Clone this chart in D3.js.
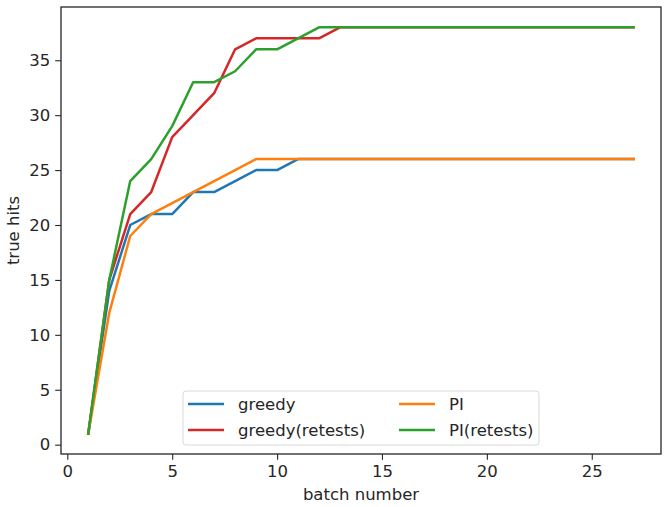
<!DOCTYPE html>
<html><head><meta charset="utf-8">
<script src="https://cdn.jsdelivr.net/npm/d3@7"></script>
<style>body{margin:0;background:#fff}svg{display:block}text{font-family:"DejaVu Sans",sans-serif;fill:#262626}</style>
</head><body><svg id="c" width="666" height="507"></svg>
<script>
const batches = d3.range(1, 28);
const greedy = [1,14,20,21,21,23,23,24,25,25,26,26,26,26,26,26,26,26,26,26,26,26,26,26,26,26,26];
const greedyRetests = [1,15,21,23,28,30,32,36,37,37,37,37,38,38,38,38,38,38,38,38,38,38,38,38,38,38,38];
const pi = [1,12,19,21,22,23,24,25,26,26,26,26,26,26,26,26,26,26,26,26,26,26,26,26,26,26,26];
const piRetests = [1,15,24,26,29,33,33,34,36,36,37,38,38,38,38,38,38,38,38,38,38,38,38,38,38,38,38];
const xTicks = [0,5,10,15,20,25];
const yTicks = [0,5,10,15,20,25,30,35];
const series = [
  {name:"greedy", values:greedy, color:"#1f77b4"},
  {name:"greedy(retests)", values:greedyRetests, color:"#d62728"},
  {name:"PI", values:pi, color:"#ff7f0e"},
  {name:"PI(retests)", values:piRetests, color:"#2ca02c"}
];
const FS = "16.5px";
const L=61, R=661, T=7, B=454;
const svg = d3.select("#c");
const x = d3.scaleLinear().domain([-0.3, 28.3]).range([L, R]);
const y = d3.scaleLinear().domain([-0.85, 39.85]).range([B, T]);
const line = d3.line().x((d,i)=>x(batches[i])).y(d=>y(d));
series.forEach(s=>{
  svg.append("path").attr("d", line(s.values)).attr("fill","none")
    .attr("stroke", s.color).attr("stroke-width", 2.5).attr("stroke-linejoin","round").attr("stroke-linecap","square");
});
const xa = svg.append("g").attr("transform",`translate(0,${B})`)
  .call(d3.axisBottom(x).tickValues(xTicks).tickSize(5.8).tickPadding(5));
const ya = svg.append("g").attr("transform",`translate(${L},0)`)
  .call(d3.axisLeft(y).tickValues(yTicks).tickSize(5.8).tickPadding(5));
[xa, ya].forEach(a=>{
  a.select(".domain").remove();
  a.selectAll("line").attr("stroke","#262626").attr("stroke-width",1.1);
  a.selectAll("text").style("font-size",FS).attr("fill","#262626").style("font-family","DejaVu Sans");
});
svg.append("rect").attr("x",L).attr("y",T).attr("width",R-L).attr("height",B-T)
  .attr("fill","none").attr("stroke","#262626").attr("stroke-width",1.3);
svg.append("text").attr("x",(L+R)/2).attr("y",500).attr("text-anchor","middle").style("font-size",FS).text("batch number");
svg.append("text").attr("transform",`translate(19,${(T+B)/2}) rotate(-90)`).attr("text-anchor","middle").style("font-size",FS).text("true hits");
// legend
const lg = svg.append("g");
lg.append("rect").attr("x",183).attr("y",391).attr("width",356).attr("height",54).attr("rx",3)
  .attr("fill","#fff").attr("fill-opacity",0.8).attr("stroke","#d9d9d9");
const order = [series[0], series[2], series[1], series[3]];
order.forEach((s,i)=>{
  const col = i%2, row = Math.floor(i/2);
  const lx = col===0 ? 188 : 399, ly = 404 + row*26;
  lg.append("line").attr("x1",lx).attr("x2",lx+36).attr("y1",ly).attr("y2",ly).attr("stroke",s.color).attr("stroke-width",2.5);
  lg.append("text").attr("x",lx+50).attr("y",ly+6).style("font-size",FS).text(s.name);
});
</script></body></html>
